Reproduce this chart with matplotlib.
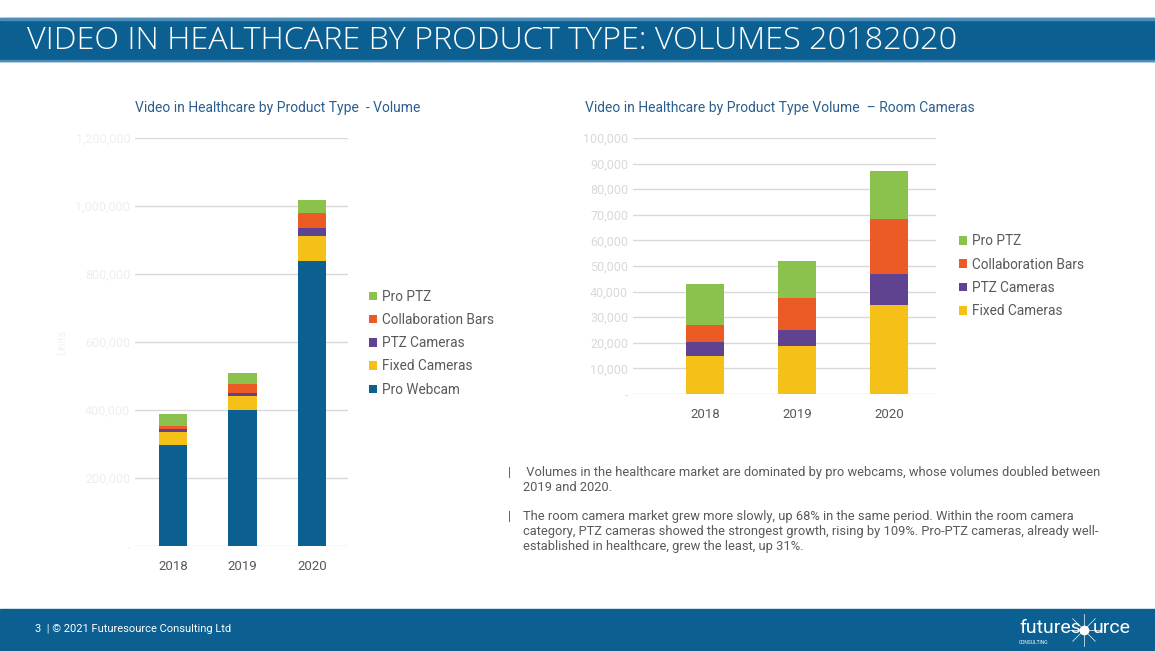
import matplotlib.pyplot as plt
import numpy as np
from matplotlib.patches import Rectangle

W, H = 1155, 651

years = ['2018', '2019', '2020']

# left chart: all products (units)
pro_webcam = [297000, 400000, 838000]
fixed_all = [38000, 42000, 74000]
ptz_all = [9000, 9000, 24000]
collab_all = [9000, 26000, 44000]
proptz_all = [36000, 32000, 38000]
left_ticks = [0, 200000, 400000, 600000, 800000, 1000000, 1200000]

# right chart: room cameras (units)
fixed_room = [14800, 18800, 34800]
ptz_room = [5500, 6200, 12100]
collab_room = [6600, 12500, 21500]
proptz_room = [16000, 14500, 18800]
right_ticks = [0, 10000, 20000, 30000, 40000, 50000, 60000, 70000, 80000, 90000, 100000]

c_webcam = '#0b5f91'
c_fixed = '#f5c018'
c_ptz = '#5f4390'
c_collab = '#ec5a26'
c_proptz = '#8bc14d'
bar_blue = '#0b5f91'
txt_gray = '#595959'
title_blue = '#2a5f8f'

plt.rcParams['font.family'] = ['Roboto', 'DejaVu Sans']

fig = plt.figure(figsize=(W / 100, H / 100), dpi=100)


def px_axes(x0, y0, x1, y1):
    # pixel box (top-left origin) -> figure axes
    return fig.add_axes([x0 / W, 1 - y1 / H, (x1 - x0) / W, (y1 - y0) / H])


# slide background: header, footer, texts
bg = fig.add_axes([0, 0, 1, 1])
bg.set_xlim(0, W)
bg.set_ylim(H, 0)
bg.axis('off')
bg.add_patch(Rectangle((0, 18), W, 43, color=bar_blue))
bg.add_patch(Rectangle((0, 18), W, 1.5, color='#4a8dbb'))
bg.add_patch(Rectangle((0, 59.5), W, 1.5, color='#4a8dbb'))
bg.text(27, 41, 'VIDEO IN HEALTHCARE BY PRODUCT TYPE: VOLUMES 20182020',
        color='white', fontsize=23.3, family=['Open Sans', 'DejaVu Sans'],
        fontweight='light', va='center', ha='left')
bg.add_patch(Rectangle((0, 609), W, 42, color=bar_blue))
bg.text(35, 629, '3  | © 2021 Futuresource Consulting Ltd', color='white',
        fontsize=8, va='center', ha='left')

# logo
bg.text(1019, 628, 'futures', color='white', fontsize=14, va='center', ha='left')
bg.text(1093, 628, 'urce', color='white', fontsize=14, va='center', ha='left')
bg.plot([1084], [630], 'o', color='white', ms=6)
for ang in np.linspace(0, np.pi, 5)[:-1]:
    dx, dy = 16 * np.cos(ang), 16 * np.sin(ang)
    bg.plot([1084 - dx, 1084 + dx], [630 - dy, 630 + dy], color='white', lw=0.6, alpha=0.8)
bg.text(1019, 643, 'CONSULTING', color='white', fontsize=3.5, va='center', ha='left')

# chart titles
bg.text(278, 108, 'Video in Healthcare by Product Type  - Volume', color=title_blue,
        fontsize=10, ha='center', va='center')
bg.text(780, 108, 'Video in Healthcare by Product Type Volume  \u2013 Room Cameras',
        color=title_blue, fontsize=10, ha='center', va='center')

# bullet text
bg.text(508, 473, '|', color=title_blue, fontsize=9, va='center')
bg.text(523, 466, ' Volumes in the healthcare market are dominated by pro webcams, whose volumes doubled between\n2019 and 2020.',
        color=txt_gray, fontsize=9.3, va='top', ha='left', linespacing=1.2)
bg.text(508, 517, '|', color=title_blue, fontsize=9, va='center')
bg.text(523, 510, 'The room camera market grew more slowly, up 68% in the same period. Within the room camera\n'
        'category, PTZ cameras showed the strongest growth, rising by 109%. Pro\u2011PTZ cameras, already well-\n'
        'established in healthcare, grew the least, up 31%.',
        color=txt_gray, fontsize=9.3, va='top', ha='left', linespacing=1.2)
bg.set_zorder(0)


def style(ax, ticks, fmt_color):
    for s in ax.spines.values():
        s.set_visible(False)
    ax.set_yticks(ticks)
    ax.set_yticklabels(['-'] + ['{:,}'.format(t) for t in ticks[1:]],
                       color=fmt_color, fontsize=9)
    ax.tick_params(axis='both', length=0)
    ax.tick_params(axis='x', colors=txt_gray, labelsize=9.5, pad=10)
    ax.grid(axis='y', color='#d9d9d9', lw=1)
    ax.set_axisbelow(True)
    ax.patch.set_alpha(0)


x = np.arange(len(years))

# left chart
ax1 = px_axes(135, 138, 348, 546)
b = np.zeros(3)
series_l = [(pro_webcam, c_webcam, 'Pro Webcam'), (fixed_all, c_fixed, 'Fixed Cameras'),
            (ptz_all, c_ptz, 'PTZ Cameras'), (collab_all, c_collab, 'Collaboration Bars'),
            (proptz_all, c_proptz, 'Pro PTZ')]
for vals, col, lab in series_l:
    ax1.bar(x, vals, 0.41, bottom=b, color=col, label=lab)
    b += np.array(vals)
ax1.set_xlim(-0.55, 2.52)
ax1.set_ylim(0, 1200000)
ax1.set_xticks(x)
ax1.set_xticklabels(years)
style(ax1, left_ticks, '#eeeeee')
ax1.set_ylabel('Units', color='#f0f0f0', fontsize=8, labelpad=6)
h, l = ax1.get_legend_handles_labels()
ax1.legend(h[::-1], l[::-1], loc='center left', bbox_to_anchor=(1.04, 0.497),
           frameon=False, fontsize=9.8, labelcolor=txt_gray, handlelength=0.6,
           handleheight=0.6, handletextpad=0.4, labelspacing=0.68)

# right chart
ax2 = px_axes(633, 138, 936, 394)
b = np.zeros(3)
series_r = [(fixed_room, c_fixed, 'Fixed Cameras'), (ptz_room, c_ptz, 'PTZ Cameras'),
            (collab_room, c_collab, 'Collaboration Bars'), (proptz_room, c_proptz, 'Pro PTZ')]
for vals, col, lab in series_r:
    ax2.bar(x, vals, 0.41, bottom=b, color=col, label=lab)
    b += np.array(vals)
ax2.set_xlim(-0.78, 2.51)
ax2.set_ylim(0, 100000)
ax2.set_xticks(x)
ax2.set_xticklabels(years)
style(ax2, right_ticks, '#d9d9d9')
h, l = ax2.get_legend_handles_labels()
ax2.legend(h[::-1], l[::-1], loc='center left', bbox_to_anchor=(1.035, 0.46),
           frameon=False, fontsize=9.8, labelcolor=txt_gray, handlelength=0.6,
           handleheight=0.6, handletextpad=0.4, labelspacing=0.68)

fig.savefig('out.png', dpi=100)
